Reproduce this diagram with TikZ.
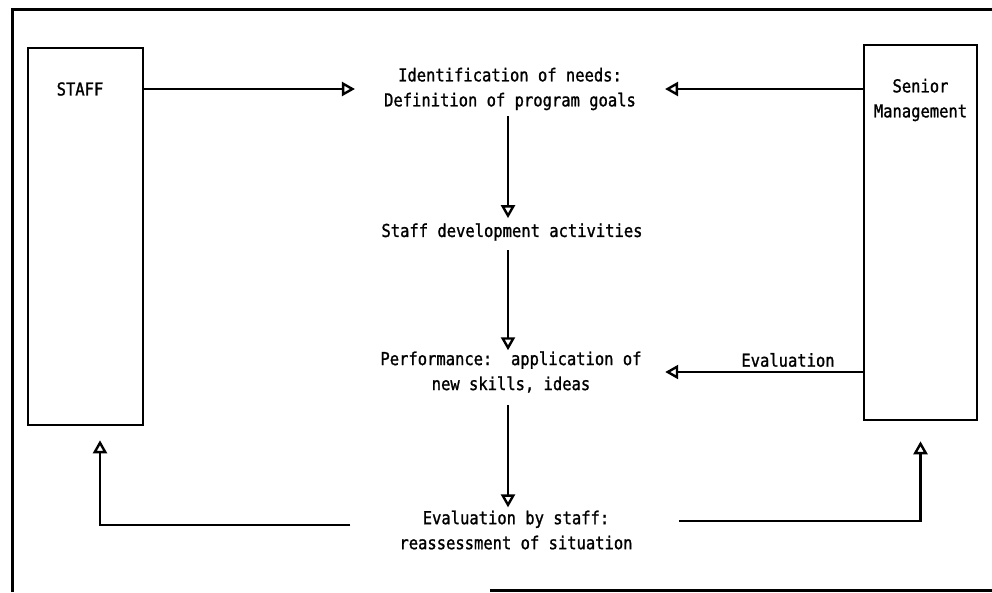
\documentclass[tikz,border=0pt]{standalone}
\usepackage{fontspec}
\newfontfamily\typefont[FakeStretch=0.87,FakeBold=1.2]{DejaVu Sans Mono}
\usetikzlibrary{arrows.meta,calc}
\begin{document}
\begin{tikzpicture}[x=1pt,y=-1pt,
  txt/.style={font=\typefont\fontsize{17.8}{25}\selectfont, inner sep=0pt, align=center},
  bigbox/.style={draw, line width=2.6pt, inner sep=0pt},
  arr/.style={-{Triangle[open,length=13pt,width=14pt,line width=2.4pt]}, line width=2.4pt},
  frameline/.style={line width=3pt}]
\useasboundingbox (0,0) rectangle (992,592);
% frame
\draw[frameline] (12,592) -- (12,9) -- (992,9);
\draw[frameline] (490,590.5) -- (992,590.5);
% boxes
\node[bigbox, minimum width=115pt, minimum height=377pt] (staff) at (85.5,236.5) {};
\node[bigbox, minimum width=113pt, minimum height=375pt] (sm) at (920.5,232.5) {};
\node[txt] (stafflbl) at (80,89) {STAFF};
\node[txt] (smlbl) at (920.5,100) {Senior\\Management};
% process texts
\node[txt] (ident) at (510,89) {Identification of needs:\\Definition of program goals};
\node[txt] (dev) at (512,232) {Staff development activities};
\node[txt] (perf) at (511,372) {Performance:\ \ application of\\new skills, ideas};
\node[txt] (evst) at (516,530) {Evaluation by staff:\\reassessment of situation};
\node[txt] (evlbl) at (788,360) {Evaluation};
\coordinate (colx) at (508,0);
% arrows
\draw[arr, shorten >=29pt] (staff.east |- ident.west) -- (ident.west);
\draw[arr, shorten >=29pt] (sm.west |- ident.east) -- (ident.east);
\draw[arr, shorten <=6pt, shorten >=5pt] (ident.south -| colx) -- (dev.north -| colx);
\draw[arr, shorten <=9pt, shorten >=1pt] (dev.south -| colx) -- (perf.north -| colx);
\draw[arr, shorten <=12pt, shorten >=3pt] (perf.south -| colx) -- (evst.north -| colx);
\draw[arr, shorten >=23.5pt] (sm.west |- perf.east) -- (perf.east);
\draw[arr, shorten <=49pt, shorten >=14pt] ([yshift=5pt]evst.west) -| ([xshift=14.5pt]staff.south);
\draw[arr, shorten <=46pt, shorten >=20pt] ([yshift=9pt]evst.east) -| (sm.south);
\end{tikzpicture}
\end{document}
